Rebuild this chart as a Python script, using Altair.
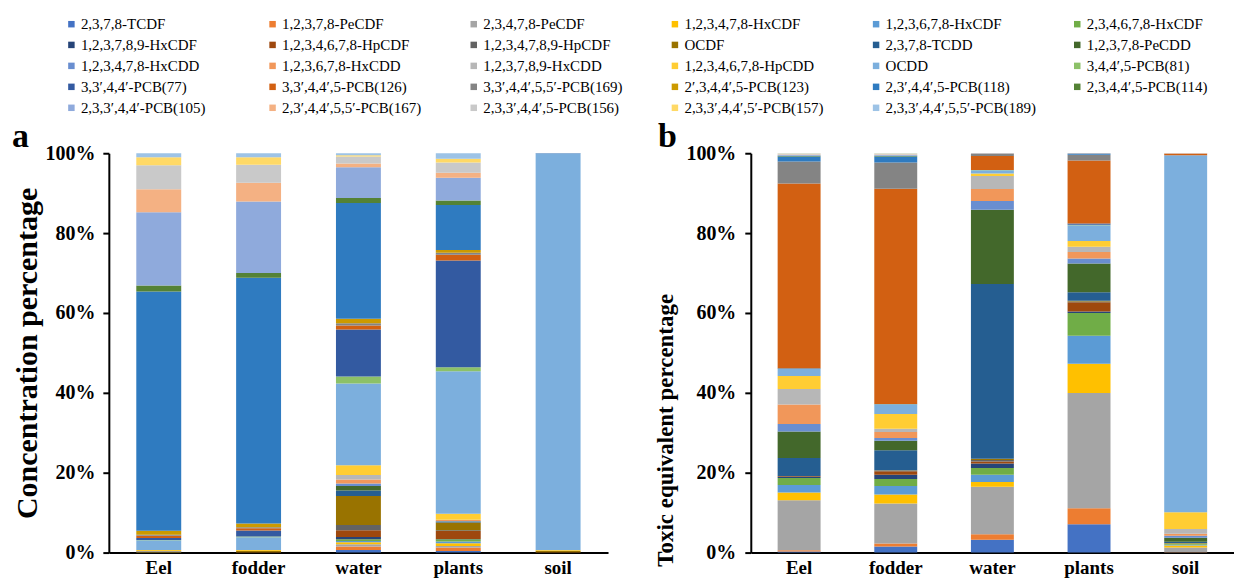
import altair as alt
import pandas as pd

congeners = [
    "2,3,7,8-TCDF", "1,2,3,7,8-PeCDF", "2,3,4,7,8-PeCDF", "1,2,3,4,7,8-HxCDF",
    "1,2,3,6,7,8-HxCDF", "2,3,4,6,7,8-HxCDF", "1,2,3,7,8,9-HxCDF", "1,2,3,4,6,7,8-HpCDF",
    "1,2,3,4,7,8,9-HpCDF", "OCDF", "2,3,7,8-TCDD", "1,2,3,7,8-PeCDD",
    "1,2,3,4,7,8-HxCDD", "1,2,3,6,7,8-HxCDD", "1,2,3,7,8,9-HxCDD", "1,2,3,4,6,7,8-HpCDD",
    "OCDD", "3,4,4′,5-PCB(81)", "3,3′,4,4′-PCB(77)", "3,3′,4,4′,5-PCB(126)",
    "3,3′,4,4′,5,5′-PCB(169)", "2′,3,4,4′,5-PCB(123)", "2,3′,4,4′,5-PCB(118)", "2,3,4,4′,5-PCB(114)",
    "2,3,3′,4,4′-PCB(105)", "2,3′,4,4′,5,5′-PCB(167)", "2,3,3′,4,4′,5-PCB(156)", "2,3,3′,4,4′,5′-PCB(157)",
    "2,3,3′,4,4′,5,5′-PCB(189)",
]

colors = [
    "#4472C4", "#ED7D31", "#A5A5A5", "#FFC000", "#5B9BD5", "#70AD47",
    "#264478", "#9E480E", "#636363", "#997300", "#255E91", "#43682B",
    "#698ED0", "#F1975A", "#B7B7B7", "#FFCD33", "#7CAFDD", "#8CC168",
    "#335AA1", "#D26012", "#848484", "#CC9A00", "#2F7BC0", "#548235",
    "#8FAADC", "#F4B183", "#C9C9C9", "#FFD966", "#9DC3E6",
]

samples = ["Eel", "fodder", "water", "plants", "soil"]

# Panel a: concentration percentage (%)
conc_eel = [0.02, 0.02, 0.03, 0.05, 0.02, 0.02, 0.01, 0.05, 0.02, 0.1, 0.01, 0.01, 0.01, 0.02, 0.02, 0.26,
            2.4, 0.05, 0.5, 0.6, 0.25, 1.0, 59.9, 1.5, 18.3, 5.8, 6.0, 2.0, 1.0]
conc_fodder = [0.01, 0.01, 0.02, 0.02, 0.01, 0.01, 0.01, 0.03, 0.01, 0.25, 0.005, 0.005, 0.005, 0.01, 0.01, 0.2,
               3.2, 0.2, 1.5, 0.6, 0.25, 0.9, 61.5, 1.2, 17.9, 4.7, 4.5, 1.9, 1.0]
conc_water = [0.67, 0.83, 0.58, 0.5, 0.34, 0.41, 0.59, 1.66, 1.34, 7.25, 1.41, 1.09, 0.66, 1.0, 1.09, 2.5,
              20.5, 1.7, 11.8, 1.0, 0.6, 1.1, 29.0, 1.25, 7.75, 0.9, 1.75, 0.35, 0.5]
conc_plants = [0.42, 0.83, 0.42, 0.66, 0.42, 0.58, 0.1, 2.0, 0.16, 1.92, 0.15, 0.15, 0.12, 0.2, 0.1, 1.5,
               35.7, 1.0, 26.75, 1.4, 0.5, 0.7, 11.3, 1.1, 5.7, 1.25, 2.6, 0.9, 1.4]
conc_soil = [0.01, 0.01, 0.02, 0.02, 0.01, 0.01, 0.01, 0.05, 0.02, 0.25, 0.01, 0.01, 0.01, 0.02, 0.02, 0.15,
             99.3, 0.01, 0.02, 0.01, 0.005, 0.01, 0.02, 0.005, 0.01, 0.005, 0.005, 0.005, 0.005]

# Panel b: toxic equivalent percentage (%)
teq_eel = [0.3, 0.3, 12.5, 1.95, 1.85, 1.8, 0.2, 0.2, 0.05, 0.05, 4.5, 6.6, 1.9, 4.9, 3.9, 3.2,
           1.8, 0.05, 0.1, 46.3, 5.5, 0.02, 1.2, 0.2, 0.2, 0.15, 0.15, 0.1, 0.05]
teq_fodder = [1.5, 0.8, 10.0, 2.3, 2.1, 1.75, 1.05, 0.9, 0.2, 0.05, 5.0, 2.4, 0.7, 1.5, 0.8, 3.7,
              2.4, 0.05, 0.1, 54.0, 6.6, 0.02, 1.45, 0.2, 0.2, 0.15, 0.15, 0.1, 0.05]
teq_water = [3.2, 1.4, 11.9, 1.2, 1.8, 1.7, 1.1, 0.5, 0.4, 0.3, 43.8, 18.6, 2.2, 3.0, 3.25, 0.65,
             0.8, 0.02, 0.05, 3.5, 0.55, 0.01, 0.05, 0.01, 0.02, 0.01, 0.01, 0.01, 0.01]
teq_plants = [7.07, 4.0, 28.9, 7.3, 7.0, 5.7, 0.4, 2.3, 0.2, 0.2, 2.1, 7.2, 1.25, 1.65, 1.3, 1.45,
              3.95, 0.1, 0.3, 15.8, 1.4, 0.02, 0.3, 0.02, 0.02, 0.01, 0.01, 0.01, 0.01]
teq_soil = [0.0, 0.1, 1.15, 0.5, 0.2, 0.3, 0.05, 0.05, 0.02, 0.03, 0.3, 1.0, 0.5, 0.5, 1.2, 4.2,
            89.6, 0.01, 0.02, 0.4, 0.02, 0.01, 0.01, 0.01, 0.01, 0.01, 0.01, 0.01, 0.01]


def make_df(columns):
    rows = []
    for s, vals in zip(samples, columns):
        for i, (c, v) in enumerate(zip(congeners, vals)):
            rows.append({"sample": s, "congener": c, "idx": i, "value": v})
    return pd.DataFrame(rows)


df_a = make_df([conc_eel, conc_fodder, conc_water, conc_plants, conc_soil])
df_b = make_df([teq_eel, teq_fodder, teq_water, teq_plants, teq_soil])

FONT = "Liberation Serif"

legend = alt.Legend(
    title=None, orient="none", legendX=-45, legendY=-137, columns=6, direction="horizontal",
    gridAlign="all",
    symbolType="square", symbolSize=42, symbolStrokeWidth=0, symbolOpacity=1,
    labelFont=FONT, labelFontSize=15, labelColor="black", labelLimit=400, labelOffset=2,
    columnPadding=33.5, rowPadding=5, padding=0,
)

color_scale = alt.Scale(domain=congeners, range=colors)


def panel(df, letter, ytitle, width, barsize, ytitle_size, title_pad, label_pad, dx, title_y=None):
    yaxis_kw = dict(
        format=".0%", values=[0, 0.2, 0.4, 0.6, 0.8, 1.0], grid=False,
        domainColor="black", domainWidth=2, tickColor="black", tickWidth=2,
        tickSize=6, labelFont=FONT, labelFontSize=20, labelFontWeight="bold",
        labelColor="black", labelPadding=label_pad, titleFont=FONT,
        titleFontSize=ytitle_size, titleFontWeight="bold", titleColor="black",
        titlePadding=title_pad,
    )
    if title_y is not None:
        yaxis_kw["titleY"] = title_y
    return alt.Chart(
        df,
        title=alt.TitleParams(letter, anchor="start", frame="group", dx=dx, offset=-11,
                              font=FONT, fontSize=34, fontWeight="bold", color="black"),
    ).mark_bar(size=barsize).encode(
        x=alt.X("sample:N", sort=samples, title=None,
                scale=alt.Scale(paddingInner=0.55, paddingOuter=0.275),
                axis=alt.Axis(labelAngle=0, ticks=False, domainColor="black", domainWidth=2,
                              labelFont=FONT, labelFontSize=19, labelFontWeight="bold",
                              labelColor="black", labelPadding=6)),
        y=alt.Y("value:Q", stack="normalize", title=ytitle,
                scale=alt.Scale(domain=[0, 1]),
                axis=alt.Axis(**yaxis_kw)),
        color=alt.Color("congener:N", scale=color_scale, sort=congeners, legend=legend),
        order=alt.Order("idx:Q", sort="ascending"),
    ).properties(width=width, height=400)


pa = panel(df_a, "a", "Concentration percentage", 500, 45, 30, 2, 8, -97)
pb = panel(df_b, "b", "Toxic equivalent  percentage", 484, 43, 23, 8, 9, -93, title_y=277)

chart = alt.hconcat(pa, pb, spacing=47).properties(
    padding={"left": 4, "top": 8, "right": 0, "bottom": 0}
).configure_view(stroke=None)

chart.save("out.html", embed_options={"renderer": "svg", "actions": False})
